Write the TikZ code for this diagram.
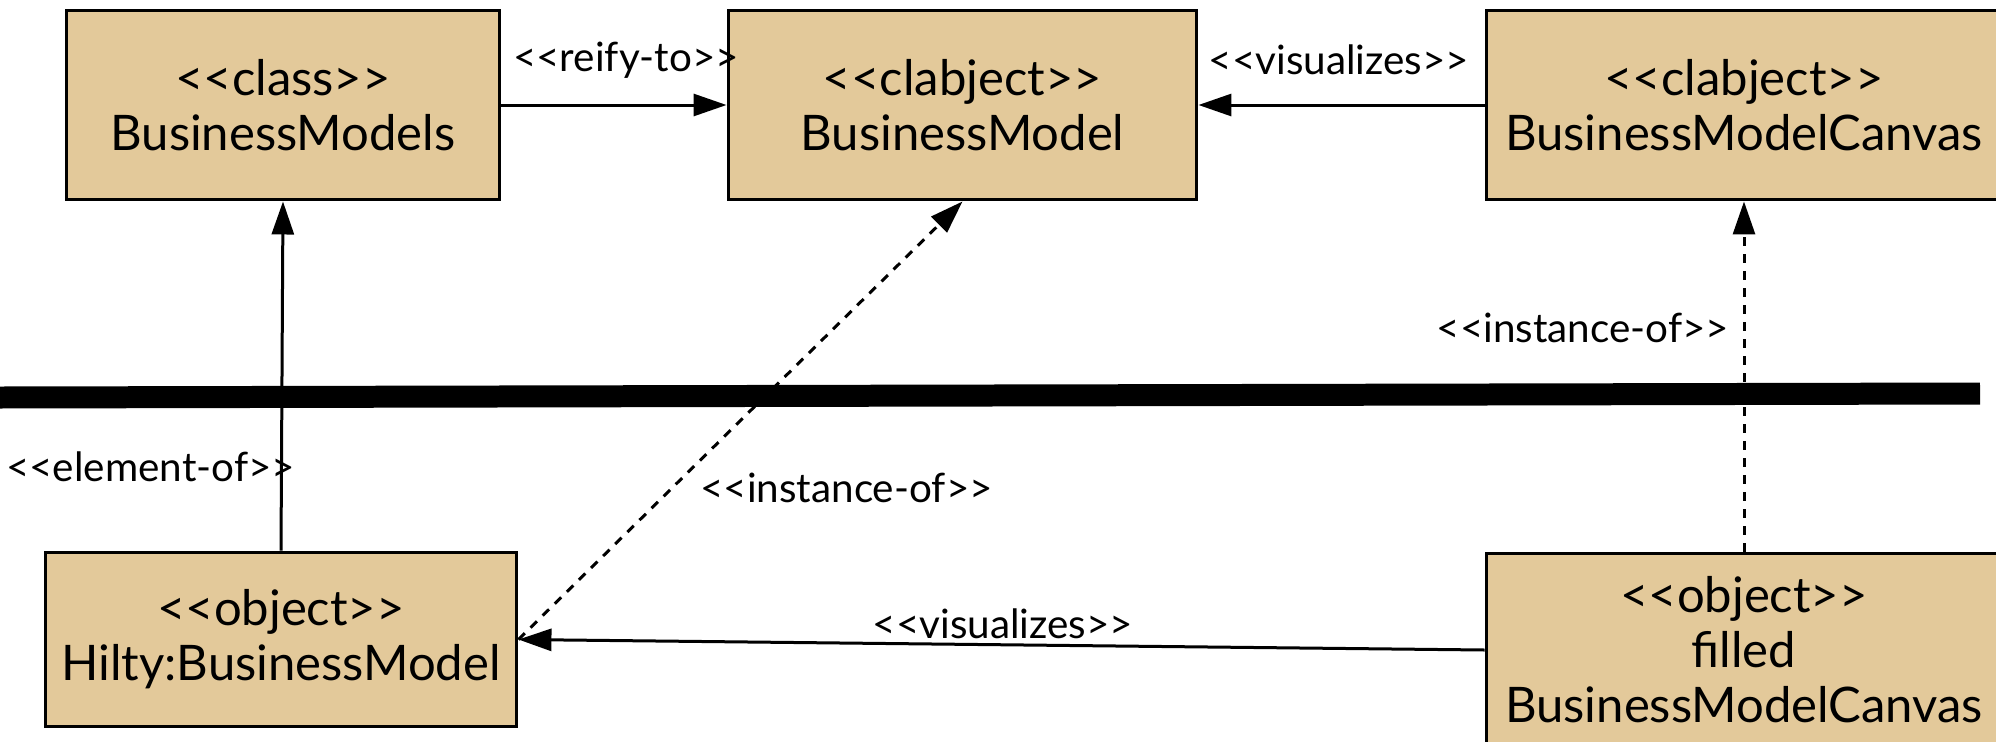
\documentclass[tikz,border=0pt]{standalone}
\usepackage{fontspec}
\setmainfont{Lato}[Ligatures=TeXOff]
\usepackage{tikz}
\usetikzlibrary{arrows.meta, positioning}
\definecolor{boxtan}{RGB}{227,201,154}
\tikzset{
  umlbox/.style={draw, fill=boxtan, line width=0.06cm, align=center, inner sep=0pt,
    font=\fontsize{27.9pt}{31.3pt}\selectfont},
  rel/.style={line width=0.06cm, -{Triangle[length=0.66cm, width=0.44cm]}},
  instof/.style={rel, dash pattern=on 0.18cm off 0.16cm},
  stereo/.style={font=\fontsize{23pt}{27pt}\selectfont, inner sep=0pt}
}

\begin{document}
\begin{tikzpicture}[x=0.02cm, y=-0.02cm]
\useasboundingbox (0,0) rectangle (1996,741);

\node[umlbox, minimum width=8.68cm, minimum height=3.8cm] (bms) at (283,105) {<<class>>\\BusinessModels};
\node[umlbox, minimum width=9.38cm, minimum height=3.8cm] (bm) at (962.5,105) {<<clabject>>\\BusinessModel};
\node[umlbox, minimum width=10.32cm, minimum height=3.8cm] (bmc) at (1744,105) {<<clabject>>\\BusinessModelCanvas};
\node[umlbox, minimum width=9.44cm, minimum height=3.5cm] (hilty) at (281,639.5) {<<object>>\\Hilty:BusinessModel};
\node[umlbox, minimum width=10.32cm, minimum height=3.88cm] (filled) at (1744,650) {<<object>>\\filled\\BusinessModelCanvas};

\draw [line width=0.44cm] (0,397.5) -- (1980,393.5);

\draw [rel] (bms.east) -- (bm.west);
\draw [rel] (bmc.west) -- (bm.east);
\draw [rel] (hilty.north) -- (bms.south);
\draw [instof] (hilty.east) -- (bm.south);
\draw [instof] (filled.north) -- (bmc.south);
\draw [rel] (filled.west) -- (hilty.east);

\node[stereo] (reify) at (626,60) {<<reify-to>>};
\node[stereo] (vistop) at (1339,60) {<<visualizes>>};
\node[stereo] (elemof) at (150.5,467) {<<element-of>>};
\node[stereo] (instlow) at (846.5,488) {<<instance-of>>};
\node[stereo] (instup) at (1583,328) {<<instance-of>>};
\node[stereo] (visbot) at (1003,624) {<<visualizes>>};

\end{tikzpicture}
\end{document}
